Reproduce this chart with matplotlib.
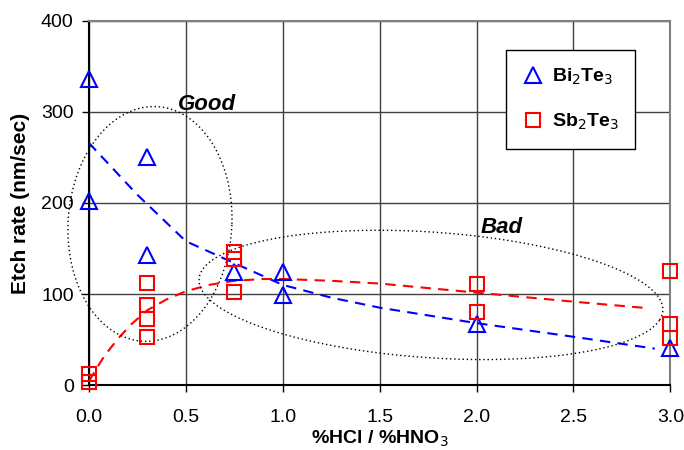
import numpy as np
import matplotlib.pyplot as plt

plt.rcParams['font.family'] = ['Liberation Sans', 'DejaVu Sans']

# measured etch rates (nm/sec) vs HCl/HNO3 ratio
bi_x = [0.0, 0.0, 0.3, 0.3, 0.75, 1.0, 1.0, 2.0, 3.0]
bi_y = [336, 202, 250, 143, 124, 124, 99, 67, 41]

sb_x = [0.0, 0.0, 0.3, 0.3, 0.3, 0.3, 0.75, 0.75, 0.75, 2.0, 2.0, 3.0, 3.0, 3.0]
sb_y = [12, 3, 112, 88, 72, 53, 146, 139, 102, 111, 80, 125, 67, 52]

# trend lines
bi_fit_x = [0.0, 0.25, 0.5, 0.75, 1.0, 1.25, 1.5, 2.0, 2.5, 2.92]
bi_fit_y = [266, 209, 158, 134, 110, 96, 85, 68, 53, 40]
sb_fit_x = [0.0, 0.03, 0.08, 0.15, 0.22, 0.3, 0.4, 0.5, 0.62, 0.75, 0.9, 1.0,
            1.25, 1.5, 2.0, 2.5, 2.88]
sb_fit_y = [4, 15, 32, 51, 67, 82, 94, 103, 110, 114.5, 116.5, 116.5,
            114.5, 111.5, 101.5, 91.6, 84.5]

# "Good" / "Bad" regions: centre, two conjugate semi-axes (data units)
good_c, good_p, good_q = (0.315, 177), (0.423, 0), (0.02, 129)
bad_c, bad_p, bad_q = (1.765, 99), (1.18, -27.5), (0.2, 65.5)

fig = plt.figure(figsize=(6.84, 4.5), dpi=100)
ax = fig.add_axes([0.130, 0.1444, 0.85, 0.809])

ax.grid(True, color='0.25', lw=1)
ax.set_axisbelow(True)

ax.plot(bi_fit_x, bi_fit_y, color='blue', lw=1.5, ls=(0, (5, 3.5)), zorder=3)
ax.plot(sb_fit_x, sb_fit_y, color='red', lw=1.5, ls=(0, (5, 3.5)), zorder=3)

t = np.linspace(0, 2 * np.pi, 300)
for c, p, q in [(good_c, good_p, good_q), (bad_c, bad_p, bad_q)]:
    ex = c[0] + p[0] * np.cos(t) + q[0] * np.sin(t)
    ey = c[1] + p[1] * np.cos(t) + q[1] * np.sin(t)
    ax.plot(ex, ey, color='black', lw=1, ls=(0, (1, 2)), zorder=3, clip_on=False)

ax.plot(bi_x, bi_y, ls='none', marker='^', ms=11.5, mfc='none', mec='blue',
        mew=1.5, label='Bi$_2$Te$_3$', zorder=4, clip_on=False)
ax.plot(sb_x, sb_y, ls='none', marker='s', ms=10.5, mfc='none', mec='red',
        mew=1.5, label='Sb$_2$Te$_3$', zorder=4, clip_on=False)

ax.text(0.46, 302, 'Good', fontsize=16, fontweight='bold', fontstyle='italic')
ax.text(2.02, 167, 'Bad', fontsize=16, fontweight='bold', fontstyle='italic')

ax.set_xlim(0, 3)
ax.set_ylim(0, 400)
ax.set_xticks(np.arange(0, 3.01, 0.5))
ax.set_xticklabels([f"{v:.1f}" for v in np.arange(0, 3.01, 0.5)])
ax.set_yticks(range(0, 401, 100))
ax.tick_params(labelsize=14, direction='out', length=5, width=1, pad=6)
ax.tick_params(axis='x', pad=12)

ax.set_xlabel('%HCl / %HNO$_3$', fontsize=14, fontweight='bold', labelpad=2)
ax.set_ylabel('Etch rate (nm/sec)', fontsize=15, fontweight='bold', labelpad=8)

for side in ['top', 'right']:
    ax.spines[side].set_color('0.5')
    ax.spines[side].set_linewidth(1.5)
for side in ['bottom', 'left']:
    ax.spines[side].set_color('black')
    ax.spines[side].set_linewidth(1.5)

leg = ax.legend(loc='upper left', bbox_to_anchor=(0.718, 0.92),
                prop={'weight': 'bold', 'size': 14}, frameon=True, fancybox=False,
                framealpha=1, edgecolor='black', borderaxespad=0, borderpad=0.85,
                labelspacing=1.3, handlelength=1.0, handletextpad=0.5)
leg.get_frame().set_linewidth(1)

fig.savefig('out.png', dpi=100)
